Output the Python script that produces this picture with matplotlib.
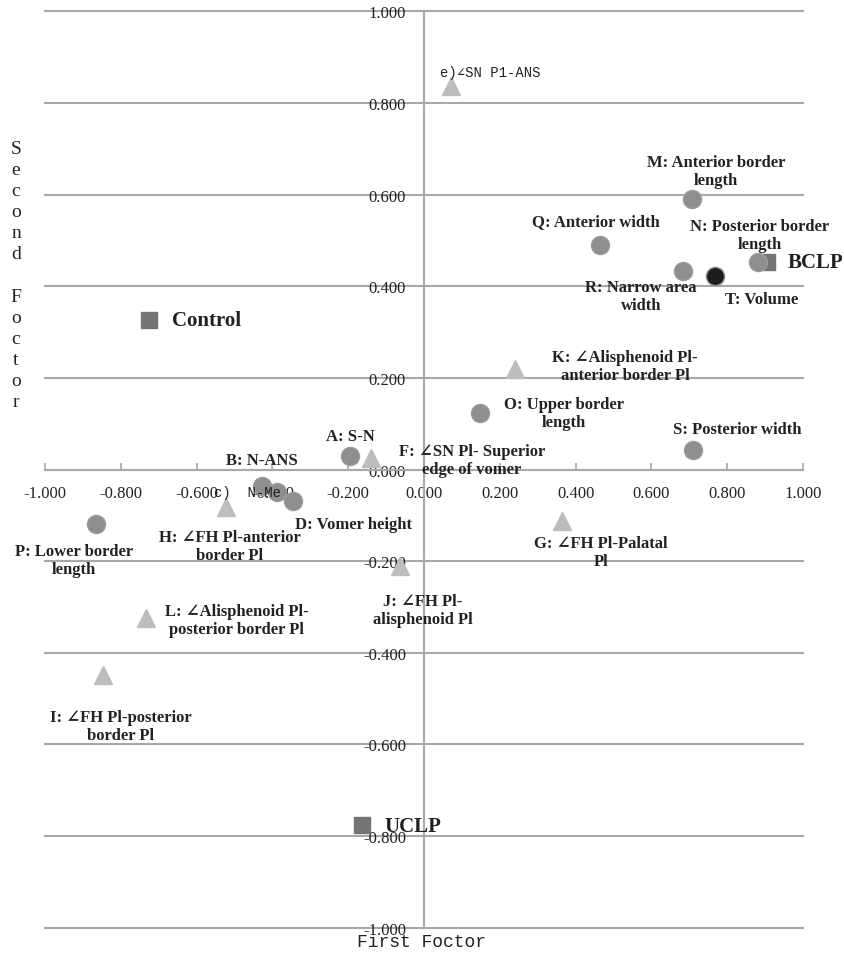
import matplotlib
matplotlib.use("Agg")
import matplotlib.pyplot as plt
import numpy as np

# Factor loadings of the measured variables (first factor, second factor)
circle_names = ["M: Anterior border\nlength", "Q: Anterior width", "N: Posterior border\nlength",
                "R: Narrow area\nwidth", "O: Upper border\nlength", "S: Posterior width",
                "A: S-N", "B: N-ANS", "c)  N-Me", "D: Vomer height", "P: Lower border\nlength"]
circle_x = [0.707, 0.464, 0.881, 0.683, 0.148, 0.710, -0.196, -0.427, -0.388, -0.345, -0.865]
circle_y = [0.591, 0.489, 0.453, 0.434, 0.123, 0.043, 0.029, -0.036, -0.050, -0.068, -0.119]

volume_name = ["T: Volume"]
volume_x = [0.768]
volume_y = [0.422]

triangle_names = ["e)\u2220SN P1-ANS", "K: \u2220Alisphenoid Pl-\nanterior border Pl",
                  "F: \u2220SN Pl- Superior\nedge of vomer", "H: \u2220FH Pl-anterior\nborder Pl",
                  "G: \u2220FH Pl-Palatal\nPl", "J: \u2220FH Pl-\nalisphenoid Pl",
                  "L: \u2220Alisphenoid Pl-\nposterior border Pl", "I: \u2220FH Pl-posterior\nborder Pl"]
triangle_x = [0.071, 0.240, -0.140, -0.523, 0.364, -0.063, -0.734, -0.847]
triangle_y = [0.838, 0.219, 0.025, -0.082, -0.112, -0.210, -0.324, -0.448]

# Group scores
group_names = ["BCLP", "Control", "UCLP"]
group_x = [0.904, -0.726, -0.164]
group_y = [0.453, 0.326, -0.776]

ticks = [-1.0, -0.8, -0.6, -0.4, -0.2, 0.0, 0.2, 0.4, 0.6, 0.8, 1.0]
tick_labels = ["%.3f" % t for t in ticks]

# label offsets in pixels (dx, dy with y up)
circle_off = [(24, 28), (-4, 24), (2, 27), (-42, -25), (84, 0), (44, 21),
              (1, 20), (0, 26), (-29, 0), (60, -23), (-22, -36)]
volume_off = [(47, -23)]
triangle_off = [(39, 14), (110, 3), (101, -2), (4, -39), (39, -31), (23, -44), (91, -2), (18, -51)]
group_off = [(21, 0), (23, 0), (23, -1)]

serif = ["Liberation Serif", "DejaVu Serif", "DejaVu Sans"]
mono = ["Liberation Mono", "DejaVu Sans Mono"]
text_col = "#222222"
grid_col = "#a8a8a8"

fig = plt.figure(figsize=(8.45, 9.54), dpi=100)
ax = fig.add_axes([45 / 845, 1 - 928.7 / 954, 758 / 845, (928.7 - 12.3) / 954])
ax.set_xlim(-1, 1)
ax.set_ylim(-1, 1)

for t in ticks:
    ax.axhline(t, color=grid_col, lw=1.5, zorder=0, clip_on=False)

for side in ["top", "right"]:
    ax.spines[side].set_visible(False)
ax.spines["left"].set_position(("data", 0))
ax.spines["bottom"].set_position(("data", 0))
for side in ["left", "bottom"]:
    ax.spines[side].set_color(grid_col)
    ax.spines[side].set_linewidth(1.5)

ax.set_xticks(ticks)
ax.set_yticks(ticks)
ax.set_xticklabels(tick_labels, fontfamily=serif, fontsize=12, color=text_col)
ax.set_yticklabels(tick_labels, fontfamily=serif, fontsize=12, color=text_col)
ax.tick_params(axis="x", direction="in", length=5, width=1.2, color=grid_col, pad=11)
ax.tick_params(axis="y", direction="inout", length=8, width=1.2, color=grid_col, pad=9)

ax.plot(group_x, group_y, "s", ms=12, color="#747474", mec="#747474", zorder=2, clip_on=False)
ax.plot(circle_x, circle_y, "o", ms=13, color="#8e8e8e", mec="#9a9a9a", mew=1, zorder=3)
ax.plot(volume_x, volume_y, "o", ms=13, color="#1c1c1c", mec="#8a8a8a", mew=1, zorder=3)
ax.plot(triangle_x, triangle_y, "^", ms=13, color="#bdbdbd", mec="#bdbdbd", zorder=3)

bold_kw = dict(textcoords="offset pixels", ha="center", va="center", multialignment="center",
               fontfamily=serif, fontweight="bold", fontsize=12, color=text_col,
               linespacing=1.15, zorder=4)
mono_kw = dict(textcoords="offset pixels", ha="center", va="center",
               fontfamily=mono, fontsize=10, color=text_col, zorder=4)

for name, x, y, off in zip(circle_names, circle_x, circle_y, circle_off):
    kw = mono_kw if name.startswith("c)") else bold_kw
    ax.annotate(name, (x, y), xytext=off, **kw)

for name, x, y, off in zip(volume_name, volume_x, volume_y, volume_off):
    ax.annotate(name, (x, y), xytext=off, **bold_kw)

for name, x, y, off in zip(triangle_names, triangle_x, triangle_y, triangle_off):
    kw = mono_kw if name.startswith("e)") else bold_kw
    ax.annotate(name, (x, y), xytext=off, **kw)

for name, x, y, off in zip(group_names, group_x, group_y, group_off):
    ax.annotate(name, (x, y), xytext=off, textcoords="offset pixels", ha="left", va="center",
                fontfamily=serif, fontweight="bold", fontsize=15, color=text_col, zorder=4)

fig.text(422 / 845, 1 - 943 / 954, "First Foctor", ha="center", va="center",
         fontfamily=mono, fontsize=13, color=text_col)
fig.text(16 / 845, 1 - 276 / 954, "\n".join(list("Second Foctor")).replace("\n \n", "\n\n"),
         ha="center", va="center", fontfamily=serif, fontsize=14, color=text_col,
         linespacing=1.32)

fig.savefig("out.png", dpi=100)
